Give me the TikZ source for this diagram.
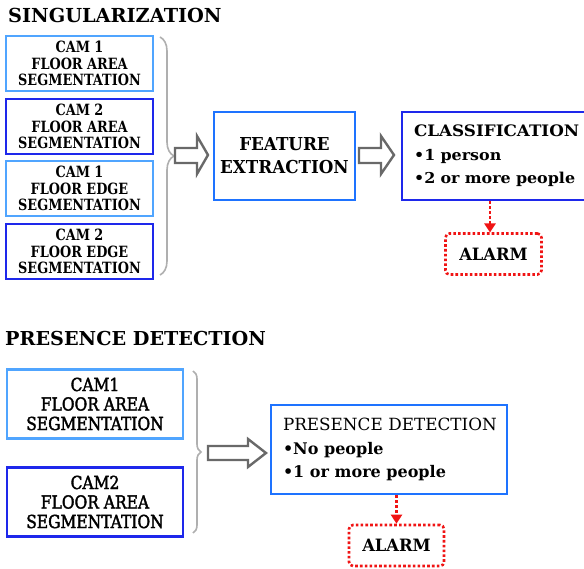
\documentclass[tikz,border=0pt]{standalone}
\usepackage{fontspec}
\setmainfont{DejaVu Serif}
\newfontfamily\segfont{DejaVu Serif}[FakeStretch=0.83]
\newfontfamily\featfont{DejaVu Serif}[FakeStretch=0.94]
\newfontfamily\clsfont{DejaVu Serif}[FakeStretch=1.06]
\newfontfamily\pfont{DejaVu Serif}[FakeStretch=0.86,FakeBold=2]
\newfontfamily\alfont{DejaVu Serif}[FakeStretch=0.96]
\usetikzlibrary{arrows.meta,decorations.pathreplacing}
\definecolor{lblue}{RGB}{80,165,255}
\definecolor{dblue}{RGB}{30,40,235}
\definecolor{mblue}{RGB}{30,115,255}
\definecolor{bgray}{RGB}{175,175,175}
\definecolor{agray}{RGB}{105,105,105}
\definecolor{ared}{RGB}{240,20,20}
\begin{document}
\begin{tikzpicture}[x=1pt,y=-1pt,
  segbox/.style={draw, line width=2.2pt, fill=white, inner sep=0pt, align=center,
    minimum width=147pt, minimum height=55pt, font=\segfont\bfseries\fontsize{15.5}{16.7}\selectfont},
  pbox/.style={draw, line width=2.2pt, fill=white, inner sep=0pt, align=center,
    minimum width=176pt, minimum height=69pt, font=\pfont\fontsize{18}{19.5}\selectfont},
  bigbox/.style={draw, line width=2.2pt, fill=white, inner xsep=12pt, inner ysep=0pt, align=left},
  alarmbox/.style={draw=ared, line width=2.6pt, dash pattern=on 2.6pt off 2.2pt, rounded corners=4pt,
    minimum width=96pt, minimum height=41pt, inner sep=0pt, font=\alfont\bfseries\fontsize{17}{19}\selectfont},
  alarmarrow/.style={draw=ared, line width=2.8pt, dash pattern=on 2.8pt off 2.2pt,
    -{Triangle[width=11pt,length=9pt,fill=ared]}},
  brc/.style={draw=bgray, line width=1.6pt, decorate},
  blk/.style={draw=agray, line width=2.4pt, fill=white, line join=miter},
  title/.style={anchor=base west, inner sep=0pt, font=\bfseries\fontsize{19.3}{21}\selectfont}
]
\clip (0,0) rectangle (584,569);
\fill[white] (0,0) rectangle (584,569);

% ---------- SINGULARIZATION ----------
\node[title] (t1) at (8,23) {SINGULARIZATION};

\node[segbox, draw=lblue] (s1) at (79.5,63.5) {CAM 1\\FLOOR AREA\\SEGMENTATION};
\node[segbox, draw=dblue] (s2) at (79.5,126.5) {CAM 2\\FLOOR AREA\\SEGMENTATION};
\node[segbox, draw=lblue] (s3) at (79.5,188.5) {CAM 1\\FLOOR EDGE\\SEGMENTATION};
\node[segbox, draw=dblue] (s4) at (79.5,251.5) {CAM 2\\FLOOR EDGE\\SEGMENTATION};

\draw[brc, decoration={brace, amplitude=14pt}] (160,37) -- (160,275);

\draw[blk] (175,148) -- (197,148) -- (197,136) -- (208,155) -- (197,174) -- (197,163) -- (175,163) -- cycle;

\node[bigbox, draw=mblue, align=center, minimum width=141pt, minimum height=88pt, inner xsep=0pt,
  font=\featfont\bfseries\fontsize{17.8}{23}\selectfont] (feat) at (284.5,156) {FEATURE\\EXTRACTION};

\draw[blk] (359,148) -- (381,148) -- (381,136) -- (394,155) -- (381,174) -- (381,163) -- (359,163) -- cycle;

\node[bigbox, draw=dblue, anchor=west, minimum height=88pt, text width=175pt,
  font=\clsfont\bfseries\fontsize{15.8}{23.5}\selectfont] (cls) at (401,156)
  {\mbox{CLASSIFICATION}\\\mbox{\fontsize{15}{23.5}\selectfont•1 person}\\\mbox{\fontsize{15}{23.5}\selectfont•2 or more people}};

\node[alarmbox] (a1) at (493.5,254) {ALARM};
\draw[alarmarrow] (490,201) -- (490,232.5);

% ---------- PRESENCE DETECTION ----------
\node[title, font=\bfseries\fontsize{19.2}{21}\selectfont] (t2) at (5,346) {PRESENCE DETECTION};

\node[pbox, draw=lblue] (p1) at (95,404) {CAM1\\FLOOR AREA\\SEGMENTATION};
\node[pbox, draw=dblue] (p2) at (95,502) {CAM2\\FLOOR AREA\\SEGMENTATION};

\draw[brc, decoration={brace, amplitude=8pt}] (193,371) -- (193,533);

\draw[blk] (208,446) -- (248,446) -- (248,439) -- (266,453) -- (248,467) -- (248,460) -- (208,460) -- cycle;

\node[bigbox, draw=mblue, minimum width=236pt, minimum height=89pt, text width=212pt,
  font=\fontsize{16.8}{23.4}\selectfont] (pres) at (389,449.5)
  {\mbox{PRESENCE DETECTION}\\\mbox{\bfseries\fontsize{16}{23.4}\selectfont•No people}\\\mbox{\bfseries\fontsize{16}{23.4}\selectfont•1 or more people}};

\node[alarmbox, minimum width=95pt] (a2) at (396.5,545.5) {ALARM};
\draw[alarmarrow] (a2.north |- pres.south) -- (a2.north);
\end{tikzpicture}
\end{document}
